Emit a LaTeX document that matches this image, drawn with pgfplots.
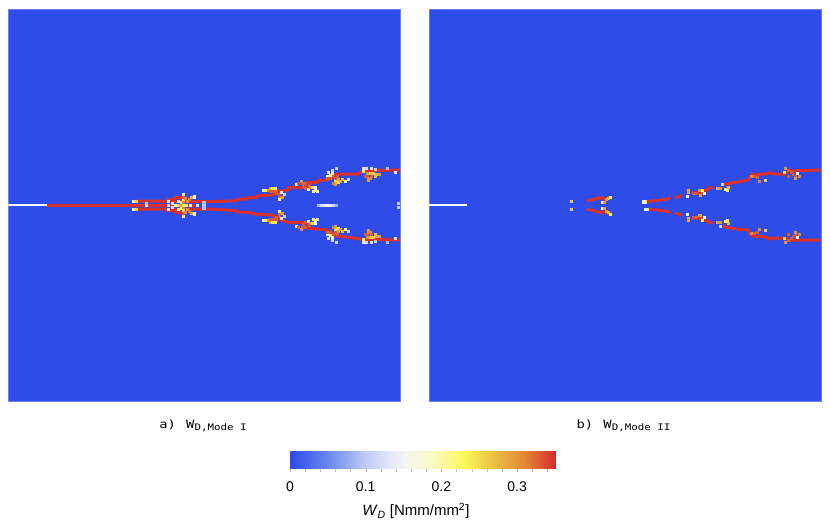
\documentclass[border=0pt]{standalone}
\usepackage{fontspec}
\setmainfont{Liberation Sans}
\newfontfamily\capfont[FakeStretch=1.2]{DejaVu Sans Mono}
\usepackage{pgfplots}
\usepackage{pgfplotstable}
\pgfplotsset{compat=1.18}

\definecolor{bgblue}{RGB}{47,75,232}
\definecolor{crack}{RGB}{218,48,44}

% hot cells in picture pixels, left panel
\pgfplotstableread{
x y v
133 201 0.2
135.5 201 0.25
133 209 0.2
135.5 209 0.25
146 203 0.1
146 205 0.12
168 201 0.14
168 205 0.15
168 209 0.14
172 203 0.12
172 207 0.12
178 201 0.14
178 209 0.14
175 205 0.2
178 205 0.24
181 202 0.23
180 205 0.29
183 205 0.24
186 205 0.22
181 208 0.23
183 200 0.24
183 202 0.31
183 208 0.31
183 210 0.24
183 197 0.33
183 213 0.33
183 194 0.24
183 216 0.24
185 198 0.31
185 212 0.31
187 201 0.3
187 209 0.3
189 199 0.31
189 211 0.31
191 197 0.28
191 213 0.28
194 196.5 0.15
194 213.5 0.15
190 205 0.14
197 205 0.17
203.5 202.5 0.09
203.5 205 0.1
203.5 207.5 0.09
263 190 0.17
265 190 0.23
268 190 0.3
270 191 0.33
273 191 0.33
276 190 0.33
270 188 0.29
272 188 0.24
275 188 0.24
276 193 0.33
279 194 0.33
281 192 0.16
279 197 0.32
282 197 0.29
279 199 0.23
284 194 0.11
263 220 0.17
265 220 0.23
268 220 0.3
270 219 0.33
273 219 0.33
276 220 0.33
270 222 0.29
272 222 0.24
275 222 0.24
276 217 0.33
279 216 0.33
281 218 0.16
279 213 0.32
282 213 0.29
279 211 0.23
284 216 0.11
296 184 0.14
298 183 0.33
302 183 0.33
305 183 0.33
303 186 0.33
305 188 0.33
301 181 0.3
309 185 0.33
308 189 0.15
310 187 0.31
312 187 0.25
315 190 0.23
313 191 0.23
315 187 0.15
317 191 0.14
296 226 0.14
298 227 0.33
302 227 0.33
305 227 0.33
303 224 0.33
305 222 0.33
301 229 0.3
309 225 0.33
308 221 0.15
310 223 0.31
312 223 0.25
315 220 0.23
313 219 0.23
315 223 0.15
317 219 0.14
327 176 0.15
327 178 0.33
330 178 0.33
330 175 0.23
332 173 0.2
328 172 0.13
332 170 0.12
336 168 0.11
333 176 0.33
335 178 0.33
338 179 0.29
337 176 0.33
345 181 0.23
342 179 0.27
335 181 0.25
338 182 0.24
335 184 0.29
333 183 0.31
340 181 0.29
348 179 0.11
327 234 0.15
327 232 0.33
330 232 0.33
330 235 0.23
332 237 0.2
328 238 0.13
332 240 0.12
336 242 0.11
333 234 0.33
335 232 0.33
338 231 0.29
337 234 0.33
345 229 0.23
342 231 0.27
335 229 0.25
338 228 0.24
335 226 0.29
333 227 0.31
340 229 0.29
348 231 0.11
363 171 0.23
365 176 0.33
367 173 0.3
370 173 0.26
373 173 0.26
376 174 0.28
379 174 0.29
367 176 0.33
371 176 0.33
375 176 0.27
368 178 0.31
370 178 0.31
368 180 0.3
363 168 0.13
366 168 0.12
371 168 0.13
375 169 0.11
387 168 0.09
395 172 0.13
363 239 0.23
365 234 0.33
367 237 0.3
370 237 0.26
373 237 0.26
376 236 0.28
379 236 0.29
367 234 0.33
371 234 0.33
375 234 0.27
368 232 0.31
370 232 0.31
368 230 0.3
363 242 0.13
366 242 0.12
371 242 0.13
375 241 0.11
387 242 0.09
395 238 0.13
318 205 0.09
321 205 0.12
324 205 0.14
327 205 0.15
330 205 0.14
333 205 0.11
336 205 0.08
398 203 0.1
398 207 0.1
}\leftcells

% hot cells, right panel
\pgfplotstableread{
x y v
571 201 0.26
571 209 0.26
602 202 0.15
602 208 0.15
604 202 0.29
604 208 0.29
606 199 0.3
606 211 0.3
608 198 0.27
608 212 0.27
610 197 0.23
610 214 0.23
643 201.5 0.15
645 201.5 0.2
645 209 0.2
647 209 0.15
687 196 0.15
687 214 0.15
688 190 0.29
688 192 0.29
688 218 0.29
688 220 0.29
693 193 0.33
696 193 0.33
693 217 0.33
696 217 0.33
699 190 0.3
702 192 0.33
702 190 0.23
704 193 0.15
700 195 0.29
699 215 0.3
702 218 0.33
702 220 0.23
704 217 0.15
700 215 0.29
717 188 0.29
720 188 0.3
720 222 0.3
717 222 0.29
722 184 0.11
720 226 0.11
725 189 0.23
727 190 0.24
728 187 0.27
725 221 0.23
727 220 0.24
728 223 0.27
751 176 0.31
754 176 0.33
757 177 0.33
751 233 0.31
754 233 0.33
757 232 0.33
765 180 0.26
765 230 0.26
759 181 0.31
759 229 0.31
784 172 0.25
785 168 0.3
788 170 0.33
791 172 0.33
793 174 0.33
795 176 0.33
797 173 0.18
799 176 0.31
795 178 0.3
788 176 0.33
784 238 0.25
785 242 0.3
788 240 0.33
791 238 0.33
793 236 0.33
795 234 0.33
797 237 0.18
799 234 0.31
795 232 0.3
788 234 0.33
}\rightcells

\pgfplotsset{
  colormap={wd}{rgb255(0pt)=(47,75,232); rgb255(5pt)=(105,135,238); rgb255(10pt)=(190,205,245);
    rgb255(15pt)=(245,245,248); rgb255(19pt)=(250,250,190); rgb255(23pt)=(250,248,90);
    rgb255(27pt)=(235,190,65); rgb255(31pt)=(225,135,55); rgb255(35pt)=(216,45,45)},
  panel/.style={
    scale only axis, width=391.7pt, height=392pt,
    y dir=reverse, ymin=9, ymax=401,
    ticks=none, axis line style={draw=bgblue!70!white, line width=0.4pt},
    axis background/.style={fill=bgblue},
    point meta min=0, point meta max=0.35,
    xlabel style={font=\capfont\fontsize{11.5pt}{12pt}\selectfont, at={(axis description cs:0.497,-0.063)}, anchor=center},
  },
  crackline/.style={crack, line width=3pt, line join=round, mark=none},
  hotcells/.style={scatter, only marks, mark=square*, mark size=1.3pt,
    scatter/use mapped color={draw=mapped color, fill=mapped color},
    point meta=\thisrow{v}},
}

\begin{document}
\begin{tikzpicture}[x=1pt,y=1pt]
\path[use as bounding box] (0,0) rectangle (830,531);

\begin{axis}[panel, at={(8.5pt,130pt)}, anchor=south west, xmin=8.5, xmax=400.2,
  xlabel={a)\ \hspace{2pt}W\textsubscript{\fontsize{9pt}{9pt}\selectfont D,Mode I}}]
\addplot[hotcells] table[x=x,y=y] {\leftcells};
\addplot[white, line width=1.8pt] coordinates {(8.5,205) (47,205)};
\addplot[crackline] coordinates {(47,205) (197,205)};
\addplot[crackline] coordinates {(135,201) (210,201.7) (237,200.7) (237,199) (248,199) (248,197.3) (257,197.3) (257,195.7) (273,195) (278,191.7) (288,190) (288,187.7) (307,187.7) (307,182.3) (318,182.3) (318,180) (327,180) (337,174) (358,174) (363,170.7) (400,170)};
\addplot[crackline] coordinates {(135,209) (210,209) (237,210.7) (237,212) (248,212.3) (257,214.3) (273,215) (278,219) (288,222.3) (307,222.3) (308,228.3) (318,229) (327,230) (337,236) (348,237.3) (363,239.3) (400,240)};
\addplot[crackline] coordinates {(167,201) (168,199.5) (175,199.5) (175,197.5) (183,197.5) (191,200)};
\addplot[crackline] coordinates {(167,209) (168,210.5) (175,210.5) (175,212.5) (183,212.5) (191,210)};
\end{axis}

\begin{axis}[panel, at={(429pt,130pt)}, anchor=south west, xmin=429, xmax=820.7,
  xlabel={b)\ \hspace{2pt}W\textsubscript{\fontsize{9pt}{9pt}\selectfont D,Mode II}}]
\addplot[hotcells] table[x=x,y=y] {\rightcells};
\addplot[white, line width=1.8pt] coordinates {(429,205) (467,205)};
\addplot[crackline] coordinates {(587,201) (595,199) (602,197.5) (605,200) (610,197)};
\addplot[crackline] coordinates {(587,209) (595,211) (602,213) (605,211) (610,214)};
\addplot[crackline] coordinates {(647,201.5) (657,200.5) (668,199) (670,197.5)};
\addplot[crackline] coordinates {(675,197.5) (682,195.7)};
\addplot[crackline] coordinates {(692,193) (700,192.5) (703,191) (707,190) (710,187.7) (713,187.7)};
\addplot[crackline] coordinates {(723,186) (725,184) (736,182.3) (748,180) (752,174.5) (766,174) (770,172.7) (775,174) (785,174) (788,171) (821,170)};
\addplot[crackline] coordinates {(649,209) (657,210) (668,211.5) (670,213)};
\addplot[crackline] coordinates {(675,213) (682,215)};
\addplot[crackline] coordinates {(692,218) (700,218) (703,219.5) (707,221) (710,222.5) (713,223)};
\addplot[crackline] coordinates {(723,225) (725,227) (736,229) (748,230) (752,236) (766,237) (770,239) (775,238) (785,238) (788,240) (821,240)};
\end{axis}

% colour scale
\begin{axis}[scale only axis, at={(290pt,62.7pt)}, anchor=south west, width=265pt, height=17.3pt,
  xmin=0, xmax=0.35, ymin=0, ymax=1, axis y line=none, axis x line*=bottom, x axis line style={draw=none,-},
  point meta min=0, point meta max=0.35,
  xtick={0,0.1,0.2,0.3}, minor xtick={0.02,0.04,0.06,0.08,0.12,0.14,0.16,0.18,0.22,0.24,0.26,0.28,0.32,0.34},
  tick style={draw=black!25}, tick align=outside, major tick length=4pt, minor tick length=4pt,
  xticklabel style={font=\fontsize{14pt}{15pt}\selectfont, /pgf/number format/assume math mode=true, anchor=center, yshift=-14pt},
  xlabel={\textit{W}\textsubscript{\textit{D}} [Nmm/mm\textsuperscript{2}]},
  xlabel style={font=\fontsize{15pt}{16pt}\selectfont, at={(axis description cs:0.475,-2.47)}, anchor=center}]
\addplot[surf, shader=interp, point meta=x, mesh/cols=36] coordinates {
(0,0) (0.01,0) (0.02,0) (0.03,0) (0.04,0) (0.05,0) (0.06,0) (0.07,0) (0.08,0) (0.09,0) (0.1,0) (0.11,0)
(0.12,0) (0.13,0) (0.14,0) (0.15,0) (0.16,0) (0.17,0) (0.18,0) (0.19,0) (0.2,0) (0.21,0) (0.22,0) (0.23,0)
(0.24,0) (0.25,0) (0.26,0) (0.27,0) (0.28,0) (0.29,0) (0.3,0) (0.31,0) (0.32,0) (0.33,0) (0.34,0) (0.35,0)
(0,1) (0.01,1) (0.02,1) (0.03,1) (0.04,1) (0.05,1) (0.06,1) (0.07,1) (0.08,1) (0.09,1) (0.1,1) (0.11,1)
(0.12,1) (0.13,1) (0.14,1) (0.15,1) (0.16,1) (0.17,1) (0.18,1) (0.19,1) (0.2,1) (0.21,1) (0.22,1) (0.23,1)
(0.24,1) (0.25,1) (0.26,1) (0.27,1) (0.28,1) (0.29,1) (0.3,1) (0.31,1) (0.32,1) (0.33,1) (0.34,1) (0.35,1)
};
\end{axis}
\end{tikzpicture}
\end{document}
